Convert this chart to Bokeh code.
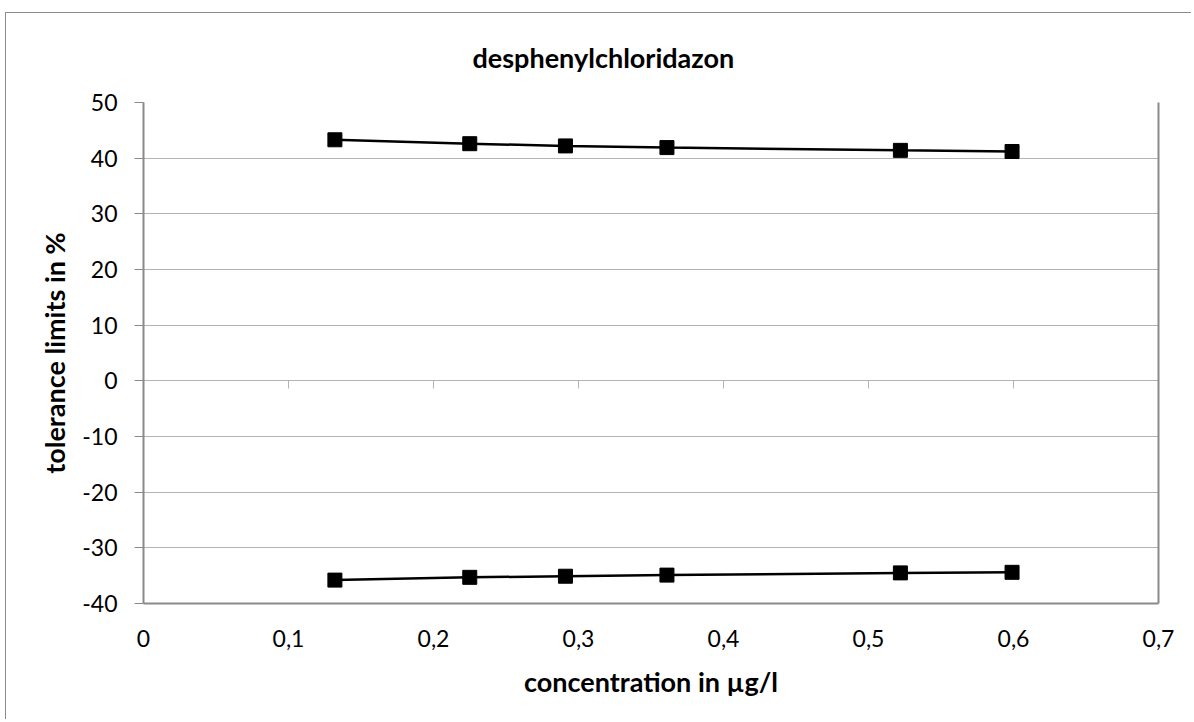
from bokeh.plotting import figure
from bokeh.models import (Range1d, LinearAxis, FixedTicker, CustomJSTickFormatter)
from bokeh.embed import file_html
from bokeh.resources import INLINE

# data
conc = [0.132, 0.225, 0.291, 0.361, 0.522, 0.599]
upper = [43.3, 42.6, 42.2, 41.9, 41.4, 41.2]
lower = [-35.8, -35.3, -35.1, -34.9, -34.5, -34.4]
x_ticks = [0, 0.1, 0.2, 0.3, 0.4, 0.5, 0.6, 0.7]
y_ticks = [-40, -30, -20, -10, 0, 10, 20, 30, 40, 50]
title_text = "desphenylchloridazon"
x_label = "concentration in µg/l"
y_label = "tolerance limits in %"

FONT = "Lato"
GRID = "#b3b3b3"
AXIS = "#8a8a8a"

p = figure(width=1186, height=707, output_backend="svg", toolbar_location=None,
           x_range=Range1d(0, 0.7), y_range=Range1d(-40, 50),
           min_border_left=137, min_border_right=34, min_border_top=89,
           min_border_bottom=117, outline_line_color=None,
           background_fill_color="white", border_fill_color="white")
p.styles = {"border-left": "1px solid #8c8c8c", "border-top": "1px solid #8c8c8c",
            "margin-top": "12px", "margin-left": "5px"}

p.title.text = title_text
p.title.align = "left"
p.title.offset = 329
p.title.vertical_align = "top"
p.title.text_font = FONT
p.title.text_font_size = "27px"
p.title.text_font_style = "bold"
p.title.text_color = "black"
p.title.standoff = 53

xfmt = CustomJSTickFormatter(code="""
    if (Math.abs(tick) < 1e-9) return "0";
    return (Math.round(tick*10)/10).toString().replace('.', ',');
""")
yfmt = CustomJSTickFormatter(code="return Math.round(tick).toString();")

# bottom axis with labels (acts as bottom border)
xa = p.xaxis[0]
xa.ticker = FixedTicker(ticks=x_ticks)
xa.formatter = xfmt
xa.axis_line_color = AXIS
xa.axis_line_width = 2
xa.major_tick_line_color = None
xa.minor_tick_line_color = None
xa.major_label_standoff = 20
xa.major_label_text_font = FONT
xa.major_label_text_font_size = "23px"
xa.major_label_text_color = "black"
xa.axis_label = x_label
xa.axis_label_text_font = FONT
xa.axis_label_text_font_size = "27px"
xa.axis_label_text_font_style = "bold"
xa.axis_label_text_color = "black"
xa.axis_label_standoff = 15

# zero-line axis with tick marks
za = LinearAxis(fixed_location=0, ticker=FixedTicker(ticks=x_ticks[1:-1]),
                major_label_text_font_size="0px", major_label_text_color=None,
                axis_line_color=GRID, axis_line_width=1,
                major_tick_line_color=GRID, major_tick_in=0, major_tick_out=8,
                minor_tick_line_color=None)
p.add_layout(za, "below")

ya = p.yaxis[0]
ya.ticker = FixedTicker(ticks=y_ticks)
ya.formatter = yfmt
ya.axis_line_color = AXIS
ya.axis_line_width = 2
ya.major_tick_line_color = AXIS
ya.major_tick_in = 0
ya.major_tick_out = 9
ya.minor_tick_line_color = None
ya.major_label_standoff = 17
ya.major_label_text_font = FONT
ya.major_label_text_font_size = "23px"
ya.major_label_text_color = "black"
ya.axis_label = y_label
ya.axis_label_text_font = FONT
ya.axis_label_text_font_size = "27px"
ya.axis_label_text_font_style = "bold"
ya.axis_label_text_color = "black"
ya.axis_label_standoff = 8

# right border
ra = LinearAxis(ticker=FixedTicker(ticks=[]), major_label_text_font_size="0px",
                axis_line_color=AXIS, axis_line_width=2,
                major_tick_line_color=None, minor_tick_line_color=None)
p.add_layout(ra, "right")

p.xgrid.grid_line_color = None
p.ygrid.ticker = FixedTicker(ticks=y_ticks)
p.ygrid.grid_line_color = GRID
p.ygrid.grid_line_width = 1

for series in (upper, lower):
    p.line(conc, series, line_color="black", line_width=2.5)
    p.scatter(conc, series, marker="square", size=14, fill_color="black",
              line_color="black")

open("out.html", "w").write(file_html(p, INLINE))
